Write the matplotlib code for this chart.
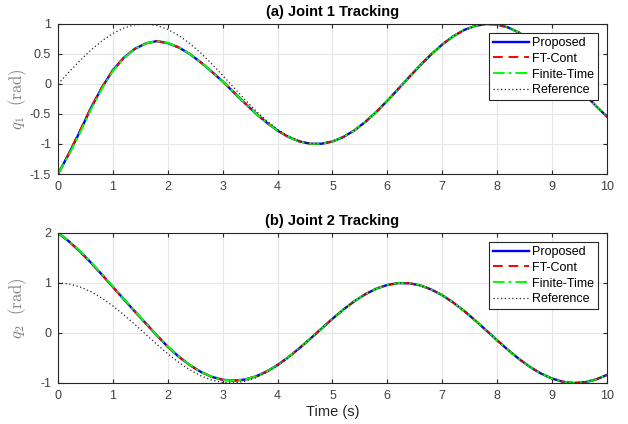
import matplotlib
matplotlib.use("Agg")
import matplotlib.pyplot as plt

plt.rcParams['font.family'] = ['Liberation Sans', 'DejaVu Sans']
plt.rcParams['mathtext.fontset'] = 'cm'

# time samples (s)
t = [i * 0.2 for i in range(51)]

# joint 1 reference
ref1 = [0.000, 0.199, 0.389, 0.565, 0.717, 0.841, 0.932, 0.985, 1.000, 0.974,
        0.909, 0.808, 0.675, 0.516, 0.335, 0.141, -0.058, -0.256, -0.443, -0.612,
        -0.757, -0.872, -0.952, -0.994, -0.996, -0.959, -0.883, -0.773, -0.631, -0.465,
        -0.279, -0.083, 0.117, 0.312, 0.494, 0.657, 0.794, 0.899, 0.968, 0.999,
        0.989, 0.941, 0.855, 0.735, 0.585, 0.412, 0.223, 0.025, -0.174, -0.366,
        -0.544]

# joint 1 tracking
prop1 = [-1.500, -1.160, -0.790, -0.400, -0.060, 0.230, 0.437, 0.585, 0.675, 0.714,
         0.680, 0.608, 0.500, 0.361, 0.205, 0.041, -0.138, -0.316, -0.488, -0.642,
         -0.777, -0.884, -0.958, -0.997, -0.996, -0.959, -0.883, -0.773, -0.631, -0.465,
         -0.279, -0.083, 0.117, 0.312, 0.494, 0.657, 0.794, 0.899, 0.968, 0.999,
         0.989, 0.941, 0.855, 0.735, 0.585, 0.412, 0.223, 0.025, -0.174, -0.366,
         -0.544]
ftc1 = [-1.500, -1.150, -0.775, -0.388, -0.052, 0.235, 0.440, 0.587, 0.676, 0.714,
        0.680, 0.608, 0.500, 0.361, 0.205, 0.041, -0.138, -0.316, -0.488, -0.642,
        -0.777, -0.884, -0.958, -0.997, -0.996, -0.959, -0.883, -0.773, -0.631, -0.465,
        -0.279, -0.083, 0.117, 0.312, 0.494, 0.657, 0.794, 0.899, 0.968, 0.999,
        0.989, 0.941, 0.855, 0.735, 0.585, 0.412, 0.223, 0.025, -0.174, -0.366,
        -0.544]
fin1 = [-1.500, -1.180, -0.815, -0.425, -0.080, 0.218, 0.430, 0.582, 0.674, 0.715,
        0.682, 0.610, 0.501, 0.362, 0.205, 0.041, -0.138, -0.316, -0.488, -0.642,
        -0.777, -0.884, -0.958, -0.997, -0.996, -0.959, -0.883, -0.773, -0.631, -0.465,
        -0.279, -0.083, 0.117, 0.312, 0.494, 0.657, 0.794, 0.899, 0.968, 0.999,
        0.989, 0.941, 0.855, 0.735, 0.585, 0.412, 0.223, 0.025, -0.174, -0.366,
        -0.544]

# joint 2 reference
ref2 = [1.000, 0.980, 0.921, 0.825, 0.697, 0.540, 0.362, 0.170, -0.029, -0.227,
        -0.416, -0.589, -0.737, -0.857, -0.942, -0.990, -0.998, -0.967, -0.897, -0.791,
        -0.654, -0.490, -0.307, -0.112, 0.087, 0.284, 0.469, 0.635, 0.776, 0.886,
        0.960, 0.997, 0.993, 0.951, 0.869, 0.754, 0.608, 0.439, 0.251, 0.054,
        -0.146, -0.340, -0.520, -0.680, -0.811, -0.911, -0.975, -1.000, -0.985, -0.930,
        -0.839]

# joint 2 tracking
prop2 = [2.000, 1.830, 1.630, 1.405, 1.167, 0.920, 0.672, 0.430, 0.191, -0.047,
         -0.276, -0.474, -0.642, -0.777, -0.877, -0.935, -0.953, -0.932, -0.870, -0.771,
         -0.640, -0.481, -0.302, -0.110, 0.087, 0.284, 0.469, 0.635, 0.776, 0.886,
         0.960, 0.997, 0.993, 0.951, 0.869, 0.754, 0.608, 0.439, 0.251, 0.054,
         -0.146, -0.340, -0.520, -0.680, -0.811, -0.911, -0.975, -1.000, -0.985, -0.930,
         -0.839]
ftc2 = [2.000, 1.825, 1.622, 1.397, 1.160, 0.915, 0.668, 0.427, 0.189, -0.048,
        -0.277, -0.474, -0.642, -0.777, -0.877, -0.935, -0.953, -0.932, -0.870, -0.771,
        -0.640, -0.481, -0.302, -0.110, 0.087, 0.284, 0.469, 0.635, 0.776, 0.886,
        0.960, 0.997, 0.993, 0.951, 0.869, 0.754, 0.608, 0.439, 0.251, 0.054,
        -0.146, -0.340, -0.520, -0.680, -0.811, -0.911, -0.975, -1.000, -0.985, -0.930,
        -0.839]
fin2 = [2.000, 1.838, 1.640, 1.415, 1.176, 0.928, 0.678, 0.435, 0.195, -0.044,
        -0.274, -0.472, -0.641, -0.776, -0.876, -0.935, -0.953, -0.932, -0.870, -0.771,
        -0.640, -0.481, -0.302, -0.110, 0.087, 0.284, 0.469, 0.635, 0.776, 0.886,
        0.960, 0.997, 0.993, 0.951, 0.869, 0.754, 0.608, 0.439, 0.251, 0.054,
        -0.146, -0.340, -0.520, -0.680, -0.811, -0.911, -0.975, -1.000, -0.985, -0.930,
        -0.839]

labels = ['Proposed', 'FT-Cont', 'Finite-Time', 'Reference']

fig = plt.figure(figsize=(6.28, 4.24), dpi=100)
ax1 = fig.add_axes([0.0924, 0.5896, 0.874, 0.354])
ax2 = fig.add_axes([0.0924, 0.0967, 0.874, 0.354])


def draw(ax, prop, ftc, fin, ref, title, ylab, yticks, ylim):
    ax.plot(t, prop, color='#0000ff', lw=1.7, ls='-', label=labels[0])
    ax.plot(t, ftc, color='#ff0000', lw=1.4, ls=(0, (5, 3)), label=labels[1])
    ax.plot(t, fin, color='#00ff00', lw=1.4, ls=(0, (6, 2, 1.5, 2)), label=labels[2])
    ax.plot(t, ref, color='#222222', lw=0.9, ls=(0, (1, 2)), label=labels[3])
    ax.set_xlim(0, 10)
    ax.set_ylim(*ylim)
    ax.set_xticks(range(11))
    ax.set_yticks(yticks)
    ax.set_yticklabels([('%g' % v) for v in yticks])
    ax.grid(True, color='#e6e6e6', lw=0.8)
    ax.set_axisbelow(True)
    ax.tick_params(direction='in', top=True, right=True, length=3,
                   labelsize=9, labelcolor='#404040', color='#262626', pad=5)
    for s in ax.spines.values():
        s.set_color('#262626')
        s.set_linewidth(0.8)
    ax.set_title(title, fontsize=10.5, fontweight='bold', pad=6)
    ax.set_ylabel(ylab, fontsize=12, color='#808080')
    ax.yaxis.set_label_coords(-0.052, 0.5)
    leg = ax.legend(loc='upper right', fontsize=9, frameon=True, fancybox=False,
                    framealpha=1, borderpad=0.3, labelspacing=0.3, handlelength=2.9,
                    handletextpad=0.2, borderaxespad=0.75)
    leg.get_frame().set_edgecolor('#262626')
    leg.get_frame().set_linewidth(0.8)


draw(ax1, prop1, ftc1, fin1, ref1, '(a) Joint 1 Tracking',
     r'$q_1\ \ \mathrm{(rad)}$', [-1.5, -1, -0.5, 0, 0.5, 1], (-1.5, 1))
draw(ax2, prop2, ftc2, fin2, ref2, '(b) Joint 2 Tracking',
     r'$q_2\ \ \mathrm{(rad)}$', [-1, 0, 1, 2], (-1, 2))
ax2.set_xlabel('Time (s)', fontsize=10.5, color='#262626', labelpad=2)

plt.savefig('out.png', dpi=100)
